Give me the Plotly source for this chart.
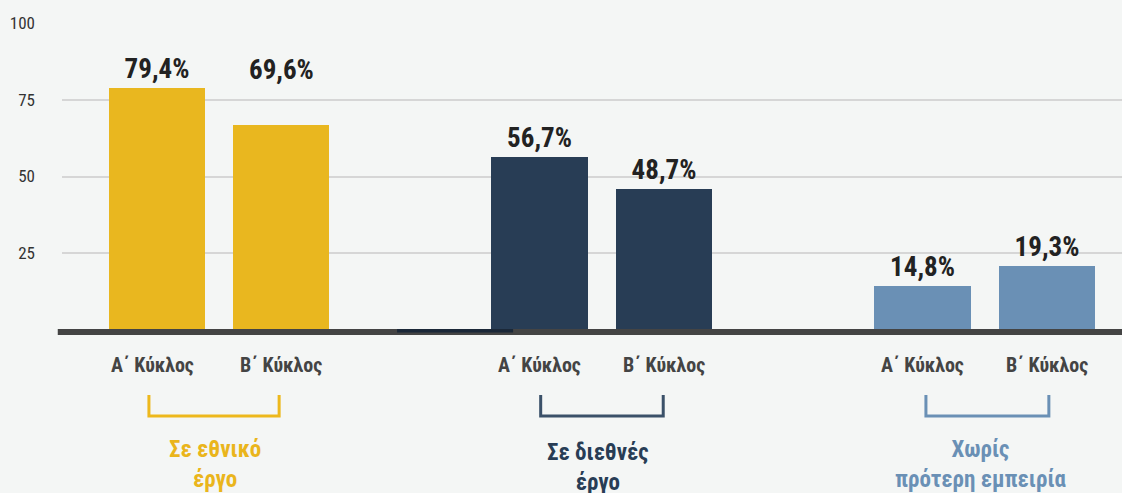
import plotly.graph_objects as go

# ---- data ----
groups = ["Σε εθνικό<br>έργο", "Σε διεθνές<br>έργο", "Χωρίς<br>πρότερη εμπειρία"]
rounds = ["Α΄ Κύκλος", "Β΄ Κύκλος"]
label_values = [79.4, 69.6, 56.7, 48.7, 14.8, 19.3]
bar_values = [78.8, 66.8, 56.4, 45.9, 14.3, 20.8]  # heights as drawn in the picture
y_ticks = [25, 50, 75, 100]

# ---- style ----
bar_colors = ["#E9B71F", "#283D55", "#6A90B5"]
bracket_colors = ["#EDB81C", "#3B5169", "#6A90B5"]
label_colors = ["#EAB51C", "#283D55", "#6A90B5"]
bracket_span = [(-0.183, 0.157), (-0.16, 0.16), (-0.154, 0.167)]
label_raise = [0, 11.6, 0, 0, 0, 0]  # extra lift of value labels (as in the picture)
BG = "#F4F6F5"
FONT = "Roboto Condensed, Liberation Sans Narrow, Roboto, sans-serif"
offset = 0.162
width = 0.253

xs, colors, texts = [], [], []
for gi in range(len(groups)):
    for ri in range(len(rounds)):
        xs.append(gi + (-offset if ri == 0 else offset))
        colors.append(bar_colors[gi])
for v in label_values:
    texts.append(f"{v:.1f}%".replace(".", ","))

fig = go.Figure()
fig.add_trace(go.Bar(
    x=xs, y=bar_values, width=width, marker=dict(color=colors, line=dict(width=0)),
    text=[f"<b>{t}</b>" if label_raise[i] == 0 else "" for i, t in enumerate(texts)],
    textposition="outside",
    textfont=dict(family=FONT, size=27, color="#222222"),
    cliponaxis=False, hoverinfo="skip",
))
for i, t in enumerate(texts):
    if label_raise[i]:
        fig.add_annotation(x=xs[i], xref="x", y=bar_values[i] + label_raise[i], yref="y",
                           text=f"<b>{t}</b>", showarrow=False, yanchor="bottom", yshift=1,
                           font=dict(family=FONT, size=27, color="#222222"))

PH = 307.0
def py(p):
    return (330 - p) / PH

# baseline
fig.add_shape(type="rect", xref="paper", x0=-0.004, x1=1, yref="paper",
              y0=py(329), y1=py(335), fillcolor="#444444", line=dict(width=0), layer="above")
fig.add_shape(type="rect", xref="x", x0=0.465, x1=0.768, yref="paper",
              y0=py(329), y1=py(332.5), fillcolor="#1B2838", line=dict(width=0), layer="above")

for gi, g in enumerate(groups):
    for ri, r in enumerate(rounds):
        x = gi + (-offset if ri == 0 else offset)
        if gi == 0 and ri == 0:
            x -= 0.012
        fig.add_annotation(x=x, xref="x", y=py(365), yref="paper", text=f"<b>{r}</b>",
                           showarrow=False, font=dict(family=FONT, size=20, color="#444444"),
                           xanchor="center", yanchor="middle")
    x0, x1 = gi + bracket_span[gi][0], gi + bracket_span[gi][1]
    fig.add_shape(type="path", xref="x", yref="paper",
                  path=f"M {x0},{py(395)} L {x0},{py(416)} L {x1},{py(416)} L {x1},{py(395)}",
                  line=dict(color=bracket_colors[gi], width=3))
    fig.add_annotation(x=gi - 0.01, xref="x", y=py(464 + (3 if gi == 1 else 0)), yref="paper",
                       text=f"<b>{g}</b>", showarrow=False,
                       font=dict(family=FONT, size=23, color=label_colors[gi]),
                       xanchor="center", yanchor="middle")

fig.update_layout(
    width=1122, height=493,
    margin=dict(l=62, r=0, t=23, b=163),
    paper_bgcolor=BG, plot_bgcolor=BG,
    showlegend=False, bargap=0,
    xaxis=dict(range=[-0.41, 2.358], showgrid=False, zeroline=False, showticklabels=False,
               showline=False, fixedrange=True),
    yaxis=dict(range=[0, 100], tickvals=y_ticks, ticktext=[str(t) for t in y_ticks],
               showgrid=True, gridcolor="#D6D6D6", gridwidth=2, zeroline=False, showline=False,
               ticks="", ticklabelstandoff=26, fixedrange=True,
               tickfont=dict(family=FONT, size=17, color="#333333")),
)

fig.write_html("out.html", config={"displayModeBar": False},
               post_script="document.body.style.margin='0';document.body.style.overflow='hidden';")
